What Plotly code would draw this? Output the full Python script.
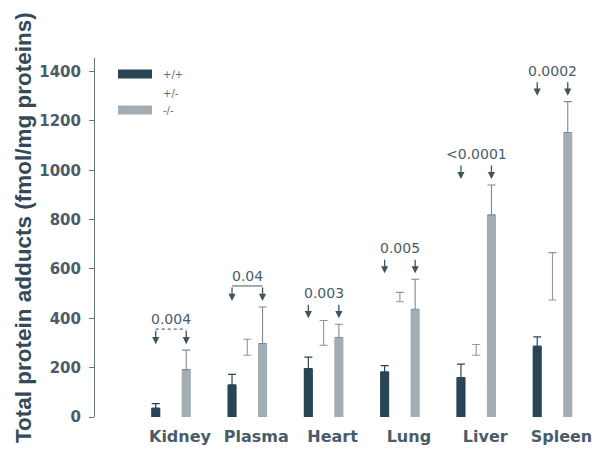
import plotly.graph_objects as go

# ---- data ----
organs = ["Kidney", "Plasma", "Heart", "Lung", "Liver", "Spleen"]
genotypes = ["+/+", "+/-", "-/-"]
wt_vals = [36, 130, 196, 183, 160, 287]
wt_err = [18, 43, 47, 25, 54, 38]
het_vals = [None, 250, 291, 467, 250, 474]
het_err = [None, 65, 100, 38, 44, 192]
ko_vals = [192, 298, 322, 437, 819, 1153]
ko_err = [79, 148, 54, 121, 121, 125]
p_values = ["0.004", "0.04", "0.003", "0.005", "<0.0001", "0.0002"]
y_ticks = [0, 200, 400, 600, 800, 1000, 1200, 1400]

W, H = 594, 451
ML, MR, MT, MB = 95, 0, 58, 34
PW, PH = W - ML - MR, H - MT - MB

def px(x):
    return (x - ML) / PW

def py(y):
    return (H - MB - y) / PH

TXT = "#4a5c69"
DARK = "#284556"
GRAY = "#a3adb3"

fig = go.Figure()
fig.add_trace(go.Bar(
    x=organs, y=wt_vals, name=genotypes[0], marker=dict(color=DARK, line=dict(width=0)),
    error_y=dict(type="data", array=wt_err, arrayminus=[0] * 6, symmetric=False,
                 color=DARK, thickness=1.2, width=4)))
fig.add_trace(go.Bar(
    x=organs, y=het_vals, name=genotypes[1], marker=dict(color="rgba(0,0,0,0)", line=dict(width=0)),
    error_y=dict(type="data", array=het_err, arrayminus=[0] * 6, symmetric=False,
                 color="#8c989f", thickness=1.1, width=4)))
fig.add_trace(go.Bar(
    x=organs, y=ko_vals, name=genotypes[2], marker=dict(color=GRAY, line=dict(width=0)),
    error_y=dict(type="data", array=ko_err, arrayminus=[0] * 6, symmetric=False,
                 color="#7d8a92", thickness=1.1, width=4)))

annotations = []
shapes = []
off = 0.2  # offset of outer bars within a group (category units)
for i, p in enumerate(p_values):
    top = ko_vals[i] + ko_err[i]
    for dx in (-off, off):
        annotations.append(dict(
            x=i + dx, y=top, xref="x", yref="y", yshift=6, text="",
            showarrow=True, ax=0, ay=-15, arrowhead=2, arrowsize=1.1,
            arrowwidth=1.3, arrowcolor="#3f5260"))
    annotations.append(dict(
        x=i, y=top, xref="x", yref="y", yshift=31, text=p, showarrow=False,
        font=dict(family="DejaVu Sans", size=14, color=TXT)))
    if i in (0, 1):
        shapes.append(dict(type="line", xref="x", yref="y", ysizemode="pixel",
                           yanchor=top, x0=i - off, x1=i + off, y0=21, y1=21,
                           line=dict(color="#55676f", width=1.1,
                                     dash="dot" if i == 0 else "solid")))

# manual legend
legend_rows = [(genotypes[0], DARK, 74), (genotypes[1], None, 93), (genotypes[2], GRAY, 110)]
for label, col, yc in legend_rows:
    if col:
        shapes.append(dict(type="rect", xref="paper", yref="paper",
                           x0=px(118), x1=px(152), y0=py(yc + 4.5), y1=py(yc - 4.5),
                           fillcolor=col, line=dict(width=0)))
    annotations.append(dict(x=px(161), y=py(yc), xref="paper", yref="paper",
                            text=label, showarrow=False, xanchor="left", yanchor="middle",
                            font=dict(family="DejaVu Sans", size=10, color="#5b6b76")))

# y-axis title
annotations.append(dict(x=px(24), y=py(228), xref="paper", yref="paper",
                        xanchor="center", yanchor="middle",
                        text="Total protein adducts (fmol/mg proteins)", textangle=-90,
                        showarrow=False,
                        font=dict(family="Liberation Sans", size=22.5, color="#34495a",
                                  weight="bold")))

fig.update_layout(
    width=W, height=H, margin=dict(l=ML, r=MR, t=MT, b=MB),
    paper_bgcolor="white", plot_bgcolor="white",
    barmode="group", bargap=0.4, bargroupgap=0.4,
    showlegend=False, annotations=annotations, shapes=shapes,
    xaxis=dict(type="category", range=[-0.996, 5.544], showline=False, showgrid=False,
               zeroline=False, ticks="", ticklabelshift=9, ticklabelstandoff=8,
               tickfont=dict(family="DejaVu Sans", size=16, color=TXT, weight="bold")),
    yaxis=dict(range=[0, 1455], tickvals=y_ticks, showline=True, linecolor="#6a7378",
               linewidth=1, ticks="outside", ticklen=5, tickcolor="#6a7378",
               showgrid=False, zeroline=False, ticklabelstandoff=5,
               tickfont=dict(family="DejaVu Sans", size=15, color=TXT, weight="bold")),
)

fig.write_html("out.html")
